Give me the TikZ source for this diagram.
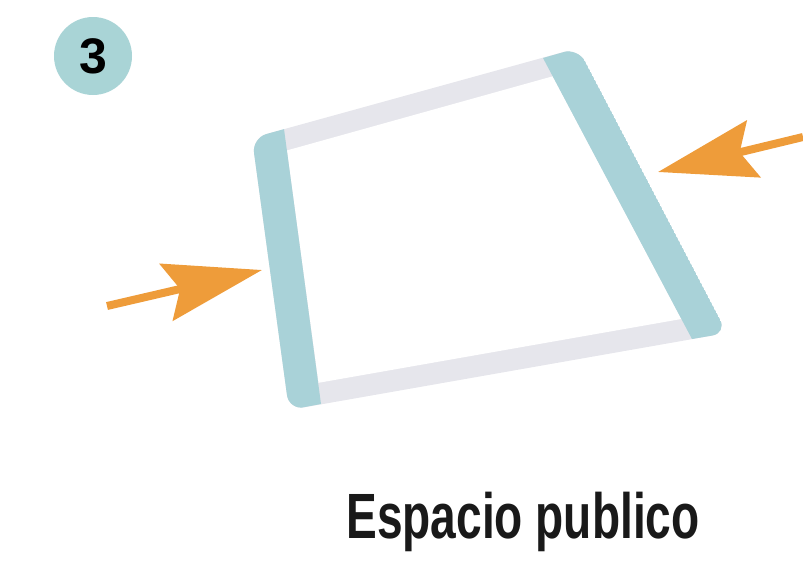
\documentclass[tikz,border=0pt]{standalone}
\usepackage{fontspec}
\setmainfont{Liberation Sans}
\usepackage{tikz}
\usetikzlibrary{arrows.meta, positioning, calc}

\definecolor{sideblue}{HTML}{A9D2D8}
\definecolor{edgegray}{HTML}{E6E6EC}
\definecolor{pushorange}{HTML}{EE9C3A}
\definecolor{badgeblue}{HTML}{A9D4D6}

\begin{document}
\begin{tikzpicture}[x=1pt, y=-1pt,
  push/.style={pushorange, line width=8pt, -{Stealth[length=98pt, width=58pt, inset=14pt]}}]

  \useasboundingbox (0,0) rectangle (803,568);

  % ==== Number badge ====
  \node[circle, fill=badgeblue, minimum size=78pt, inner sep=0pt,
        font=\fontsize{50}{50}\selectfont\bfseries] (badge) at (93,56) {3};

  % ==== Public space ====

  % outer corners
  \coordinate (A) at (252,138);
  \coordinate (B) at (578,48);
  \coordinate (C) at (727,333);
  \coordinate (D) at (289,410);
  % inner ends of the side bars
  \coordinate (A2) at (284,129);
  \coordinate (D2) at (321,404);
  \coordinate (B2) at (543,58);
  \coordinate (C2) at (692,339);
  % free space inside
  \coordinate (P1) at (287,150.4);
  \coordinate (P2) at (552.7,76.3);
  \coordinate (P3) at (681.3,319);
  \coordinate (P4) at (318.5,382.8);

  \begin{scope}
    \clip[rounded corners=15pt] (A) -- (B) -- (C) -- (D) -- cycle;
    \fill[edgegray] (A) -- (B) -- (C) -- (D) -- cycle;
    \fill[white] (P1) -- (P2) -- (P3) -- (P4) -- cycle;
    % side bars
    \fill[sideblue] (A) -- (A2) -- (D2) -- (D) -- cycle;
    \fill[sideblue] (B2) -- (B) -- (C) -- (C2) -- cycle;
  \end{scope}

  % ==== Arrows ====
  \coordinate (lefttail) at (107,306);
  \coordinate (lefthit) at (262,270);
  \coordinate (righttail) at (803,137);
  \coordinate (righthit) at (658,172);
  \draw[push] (lefttail) -- (lefthit);
  \draw[push] (righttail) -- (righthit);

  % ==== Caption ====
  \node[font=\fontsize{64}{70}\selectfont\bfseries, text=black!90, xscale=0.72, anchor=base]
    (caption) at (523,538) {Espacio publico};
\end{tikzpicture}
\end{document}
